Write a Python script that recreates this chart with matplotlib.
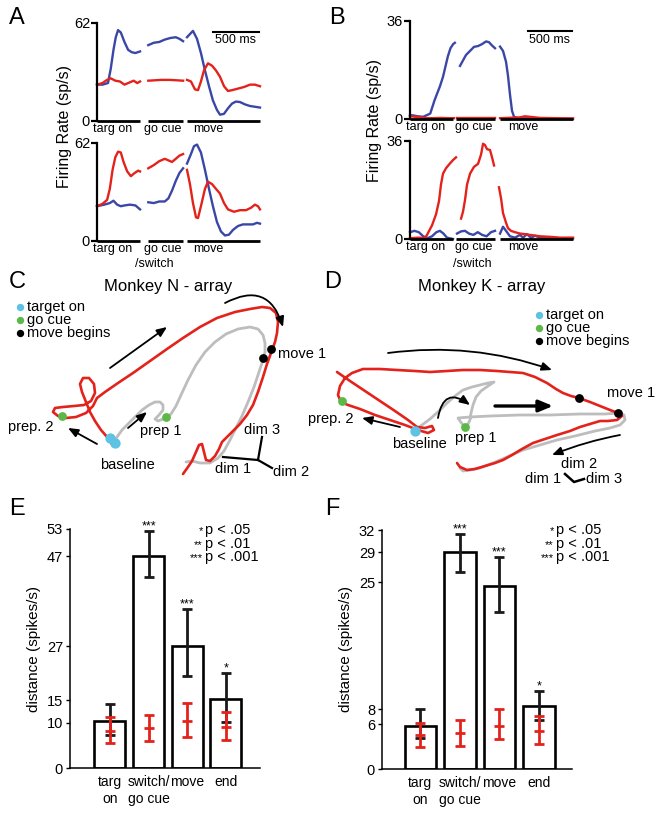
import numpy as np
import matplotlib
matplotlib.use("Agg")
import matplotlib.pyplot as plt

plt.rcParams['font.family'] = ['Liberation Sans', 'DejaVu Sans']

W, H = 664, 813
BLUE = '#3a47a6'
RED = '#e4221c'
GRAY = '#bdbdbd'
CYAN = '#5cc3e4'
GREEN = '#5bb947'

# ---- panel A: firing rates (time in ms, rate in sp/s) ----
a_segs = [(0, 470), (560, 940), (985, 1780)]
a_top_blue = [
    ([0, 60, 120, 150, 180, 205, 230, 260, 300, 340, 380, 420, 470],
     [23, 23, 24, 33, 45, 53, 57.5, 56, 50, 45, 43.5, 43, 44]),
    ([560, 620, 680, 740, 800, 860, 900, 940], [48, 49.5, 50, 51.5, 52.5, 53, 52, 50.5]),
    ([983, 1015, 1048, 1092, 1135, 1179, 1223, 1266, 1310, 1343, 1386, 1430, 1474, 1517, 1561, 1616, 1670, 1725, 1780],
     [53, 55, 57, 52, 43, 32, 22, 13, 7, 4, 4.5, 8, 11, 12.3, 12, 10.5, 9.5, 9, 8.5]),
]
a_top_red = [
    ([0, 60, 110, 150, 200, 250, 300, 340, 400, 440, 470], [23, 24, 26, 27, 25.5, 25, 23, 24, 25.5, 24, 25]),
    ([560, 700, 800, 940], [25.5, 26, 26, 25.5]),
    ([983, 1026, 1070, 1103, 1135, 1168, 1212, 1256, 1299, 1343, 1387, 1430, 1474, 1540, 1605, 1671, 1725, 1780],
     [26, 25, 20, 19.5, 25, 32, 36.5, 35, 32, 28, 22, 19, 19.5, 20.5, 21.5, 23, 23, 22]),
]
a_bot_blue = [
    ([0, 80, 140, 180, 220, 260, 300, 360, 420, 470], [22, 23, 24, 25.5, 23, 22, 22.5, 23, 22.5, 20]),
    ([560, 620, 680, 740, 780, 820, 860, 900, 940], [24.5, 24, 25, 25, 27, 32, 38, 43, 46]),
    ([983, 1026, 1059, 1092, 1135, 1179, 1223, 1266, 1310, 1354, 1397, 1441, 1485, 1540, 1594, 1649, 1703, 1747, 1780],
     [49, 55, 60, 61, 56, 45, 33, 22, 12, 6, 3.5, 4, 7, 9.5, 10.5, 10.5, 10.5, 11.5, 11]),
]
a_bot_red = [
    ([0, 60, 110, 140, 170, 200, 230, 260, 290, 330, 370, 410, 450, 470],
     [22, 23.5, 26, 33, 45, 53, 56.5, 56, 50, 44, 41, 43, 44.5, 44]),
    ([560, 620, 680, 740, 780, 820, 860, 900, 940], [46, 48, 50.5, 52, 51, 50, 52, 54, 55]),
    ([983, 1015, 1048, 1081, 1103, 1135, 1179, 1212, 1256, 1299, 1343, 1387, 1430, 1496, 1562, 1627, 1681, 1725, 1758, 1780],
     [45, 36, 24, 15, 14.5, 22, 33, 37.5, 36, 33, 30, 24, 20, 18.5, 19.5, 19.5, 21, 23, 22, 20]),
]
a_labels = ['targ on', 'go cue', 'move']
a_label_t = [175, 715, 1212]

# ---- panel B ----
b_segs = [(0, 489), (523, 966), (1023, 1852)]
b_top_blue = [
    ([0, 90, 150, 230, 280, 340, 375, 430, 460, 490, 510], [1.5, 1, 0.8, 2, 7, 12, 15.5, 23, 26, 27.5, 28]),
    ([568, 602, 636, 682, 727, 773, 818, 864, 898, 932, 966], [19.5, 21.5, 23.5, 25, 26.5, 26.8, 27.5, 28.5, 28.2, 27, 26]),
    ([1023, 1057, 1091, 1113, 1136, 1159, 1182, 1227, 1364, 1852], [26.6, 25, 21, 16, 9, 3, 0.8, 0.3, 0.2, 0.1]),
]
b_top_red = [
    ([0, 100, 150, 250, 350, 450, 500], [1, 0.7, 0.4, 0.3, 0.4, 0.3, 0.3]),
    ([534, 966], [0.2, 0.2]),
    ([1023, 1250, 1306, 1364, 1477, 1852], [0.3, 0.6, 1, 0.8, 0.4, 0.2]),
]
b_bot_blue = [
    ([0, 50, 100, 150, 200, 250, 300, 340, 380, 420, 489], [2.5, 3, 2.5, 1, 0.3, 1, 2.5, 3, 2, 0.5, 0]),
    ([534, 580, 625, 670, 720, 770, 820, 870, 920, 966], [2, 2.8, 3, 2, 1.5, 2.5, 1.5, 1, 2.5, 3]),
    ([1023, 1057, 1091, 1136, 1193, 1250, 1284, 1329, 1375, 1420, 1477, 1590, 1852],
     [2, 4.5, 3, 1, 0.5, 1.5, 0.5, 1.8, 0.4, 1.2, 0.5, 0.3, 0.2]),
]
b_bot_red = [
    ([0, 100, 170, 193, 250, 295, 330, 352, 375, 409, 455, 489, 523],
     [0.3, 0.5, 0.3, 1.5, 5, 9, 14, 20, 24, 26, 27.8, 29, 30]),
    ([580, 602, 625, 648, 682, 727, 773, 807, 830, 852, 875, 909, 932, 955],
     [7.5, 10, 14.3, 20, 24, 26.5, 27.6, 31, 35, 34.5, 33, 32.7, 30, 27]),
    ([1011, 1034, 1057, 1091, 1113, 1147, 1193, 1250, 1306, 1364, 1477, 1590, 1704, 1852],
     [19, 15, 9.5, 6, 4, 3, 2.5, 2, 1.8, 1.5, 1, 0.8, 0.5, 0.5]),
]
b_label_t = [182, 727, 1284]

# ---- panels C, D: neural state trajectories (projection units) ----
c_red_x = [113, 108, 101, 95, 90, 86, 82, 80, 83, 89, 94, 95, 91, 84, 74, 63, 55, 53, 58, 66, 76, 86, 93, 97,
           105, 118, 133, 150, 167, 183, 200, 217, 235, 250, 262, 270, 276, 278, 277, 275, 271, 267, 263, 258,
           253, 247, 240, 233, 226, 222, 219, 215, 210, 206, 204, 202, 199, 196, 192, 188, 183]
c_red_y = [446, 438, 430, 421, 412, 402, 392, 384, 378, 378, 384, 393, 401, 405, 406, 407, 408, 412, 416, 418,
           417, 413, 406, 398, 392, 383, 373, 361, 349, 338, 327, 318, 312, 309, 307, 308, 313, 322, 333, 342,
           353, 364, 377, 392, 405, 415, 424, 431, 438, 442, 449, 456, 461, 460, 452, 444, 445, 452, 461, 467, 474]
c_gray_x = [113, 117, 122, 128, 135, 142, 149, 155, 160, 163, 163, 159, 155, 158, 163, 166, 171, 176, 181, 188,
            196, 205, 215, 226, 238, 250, 258, 263, 265, 265, 263, 259, 254, 248, 242, 236, 230, 224, 218, 210,
            200, 192, 186]
c_gray_y = [443, 437, 430, 424, 417, 410, 405, 402, 402, 405, 410, 415, 419, 421, 419, 417, 414, 406, 395, 380,
            365, 352, 342, 334, 329, 327, 329, 335, 343, 352, 360, 372, 387, 402, 416, 428, 440, 451, 458, 463,
            463, 461, 462]
c_targ = ([110, 115], [438, 443])
c_go = ([62, 166], [416, 417])
c_move = ([263, 271], [358, 349])

d_red_x = [337, 350, 365, 380, 395, 408, 417, 425, 432, 434, 428, 418, 405, 390, 375, 360, 348, 341, 338, 340,
           345, 352, 363, 380, 397, 415, 430, 447, 463, 480, 497, 510, 523, 535, 547, 556, 563, 571, 579, 590,
           600, 610, 618, 622, 617, 608, 600, 590, 580, 570, 557, 545, 533, 522, 512, 503, 495, 485, 475, 467,
           460, 457]
d_red_y = [372, 381, 391, 401, 411, 420, 427, 428, 426, 430, 433, 430, 425, 420, 415, 409, 405, 402, 395, 386,
           378, 373, 369, 369, 370, 371, 372, 371, 370, 370, 371, 372, 373, 377, 383, 389, 393, 396, 398, 402,
           406, 410, 413, 416, 420, 421, 421, 424, 427, 431, 435, 439, 443, 449, 455, 460, 463, 466, 469, 470,
           467, 463]
d_gray_x = [415, 422, 430, 439, 447, 455, 463, 472, 480, 488, 494, 488, 481, 476, 473, 471, 470, 467, 463, 460,
            458, 470, 490, 520, 550, 580, 605, 618, 624, 625, 620, 610, 595, 575, 557, 540, 523, 507, 493, 480,
            470, 463, 460]
d_gray_y = [430, 425, 419, 411, 403, 396, 390, 387, 385, 383, 382, 386, 391, 397, 405, 413, 420, 426, 425, 421,
            418, 417, 416, 415, 415, 414, 414, 413, 415, 420, 425, 428, 431, 436, 440, 445, 450, 457, 463, 468,
            470, 471, 468]
d_targ = ([415], [431])
d_go = ([342, 465], [401, 427])
d_move = ([579, 618], [398, 413])

# ---- panels E, F: distances (spikes/s) ----
bar_labels = ['targ\non', 'switch/\ngo cue', 'move', 'end']
e_dist = [10.5, 47.0, 27.0, 15.2]
e_lo = [7.3, 42.3, 20.3, 10.3]
e_hi = [14.2, 52.6, 35.3, 21.1]
e_ctrl = [8.2, 8.9, 10.5, 9.1]
e_ctrl_lo = [5.5, 6.0, 6.9, 6.2]
e_ctrl_hi = [11.3, 11.8, 14.5, 12.5]
e_stars = ['', '***', '***', '*']
e_yticks = [0, 10, 15, 27, 47, 53]

f_dist = [5.8, 29.1, 24.5, 8.4]
f_lo = [4.2, 26.4, 21.0, 6.6]
f_hi = [8.1, 31.5, 28.4, 10.5]
f_ctrl = [4.6, 4.8, 5.7, 5.1]
f_ctrl_lo = [3.0, 3.1, 4.0, 3.3]
f_ctrl_hi = [6.1, 6.6, 8.0, 7.1]
f_stars = ['', '***', '***', '*']
f_yticks = [0, 6, 8, 25, 29, 32]

p_stars = ['*', '**', '***']
p_texts = ['p < .05', 'p < .01', 'p < .001']

fig = plt.figure(figsize=(W / 100, H / 100), dpi=100)


def px_axes(x0, y0, x1, y1):
    return fig.add_axes([x0 / W, 1 - y1 / H, (x1 - x0) / W, (y1 - y0) / H])


def ftext(x, y, s, **kw):
    fig.text(x / W, 1 - y / H, s, **kw)


def rate_panel(rect, xmax, ymax, segs, blue, red, label_t, labels=a_labels):
    ax = px_axes(*rect)
    for t, v in blue:
        ax.plot(t, v, color=BLUE, lw=1.7, clip_on=False)
    for t, v in red:
        ax.plot(t, v, color=RED, lw=1.7, clip_on=False)
    ax.set_xlim(0, xmax)
    ax.set_ylim(0, ymax)
    for s in ['top', 'right', 'bottom']:
        ax.spines[s].set_visible(False)
    ax.spines['left'].set_linewidth(1.6)
    ax.set_xticks([])
    ax.set_yticks([0, ymax])
    ax.tick_params(axis='y', length=4, width=1.6, labelsize=10.5, pad=1)
    for a, b in segs:
        ax.plot([a, b], [0, 0], color='k', lw=2, clip_on=False, solid_capstyle='butt')
    for lab, t in zip(labels, label_t):
        ax.annotate(lab, (t, 0), xycoords=('data', 'axes fraction'), xytext=(0, -1.5),
                    textcoords='offset points', ha='center', va='top', fontsize=9)
    return ax


# panel A
ax = rate_panel((97, 23, 260, 121), 1780, 62, a_segs, a_top_blue, a_top_red, a_label_t)
ax.plot([1266, 1766], [56.5, 56.5], color='k', lw=1.5, clip_on=False)
ax.text(1516, 55, '500 ms', ha='center', va='top', fontsize=9)
rate_panel((97, 143, 260, 241), 1780, 62, a_segs, a_bot_blue, a_bot_red, a_label_t)
ftext(154, 264, '/switch', ha='center', va='center', fontsize=9)
ftext(65, 126, 'Firing Rate (sp/s)', rotation=90, ha='center', va='center', fontsize=11.5)

# panel B
ax = rate_panel((410, 21, 573, 119), 1852, 36, b_segs, b_top_blue, b_top_red, b_label_t)
ax.plot([1340, 1840], [32.3, 32.3], color='k', lw=1.5, clip_on=False)
ax.text(1590, 31.3, '500 ms', ha='center', va='top', fontsize=9)
rate_panel((410, 141, 573, 239), 1852, 36, b_segs, b_bot_blue, b_bot_red, b_label_t)
ftext(472, 264, '/switch', ha='center', va='center', fontsize=9)
ftext(374, 121, 'Firing Rate (sp/s)', rotation=90, ha='center', va='center', fontsize=11.5)


def arrow(ax, start, end, rad=0.0, lw=1.3, ms=10):
    ax.annotate('', xy=end, xytext=start,
                arrowprops=dict(arrowstyle='-|>,head_length=0.6,head_width=0.25', color='k', lw=lw,
                                connectionstyle=f'arc3,rad={rad}', mutation_scale=ms,
                                shrinkA=0, shrinkB=0))


def traj_panel(rect, gx, gy, rx, ry, targ, go, move):
    ax = px_axes(*rect)
    ax.set_xlim(rect[0], rect[2])
    ax.set_ylim(rect[3], rect[1])
    ax.axis('off')
    ax.plot(gx, gy, color=GRAY, lw=2.0, solid_capstyle='round', zorder=2)
    ax.plot(rx, ry, color=RED, lw=1.9, solid_capstyle='round', zorder=3)
    ax.scatter(*targ, s=55, color=CYAN, zorder=5, linewidths=0)
    ax.scatter(*go, s=40, color=GREEN, zorder=5, linewidths=0)
    ax.scatter(*move, s=40, color='k', zorder=5, linewidths=0)
    return ax


def legend_dots(ax, x, ys):
    for y, c, lab in zip(ys, [CYAN, GREEN, 'k'], ['target on', 'go cue', 'move begins']):
        ax.scatter([x], [y], s=28, color=c, linewidths=0)
        ax.text(x + 7, y, lab, ha='left', va='center', fontsize=10.5)


# panel C
ax = traj_panel((0, 270, 332, 490), c_gray_x, c_gray_y, c_red_x, c_red_y, c_targ, c_go, c_move)
legend_dots(ax, 20, [307, 320, 333])
arrow(ax, (110, 368), (167, 327))
arrow(ax, (225, 303), (283, 327), rad=-0.6)
arrow(ax, (128, 428), (147, 412))
arrow(ax, (97, 444), (68, 428))
ax.text(8, 427, 'prep. 2', ha='left', va='center', fontsize=10.5)
ax.text(127, 465, 'baseline', ha='center', va='center', fontsize=10.5)
ax.text(161, 431, 'prep 1', ha='center', va='center', fontsize=10.5)
ax.text(278, 354, 'move 1', ha='left', va='center', fontsize=10.5)
ax.text(262, 430, 'dim 3', ha='center', va='center', fontsize=10.5)
ax.text(233, 469, 'dim 1', ha='center', va='center', fontsize=10.5)
ax.text(291, 472, 'dim 2', ha='center', va='center', fontsize=10.5)
ax.plot([262, 258], [437, 460], color='k', lw=1.6)
ax.plot([223, 258], [457, 460], color='k', lw=1.6)
ax.plot([258, 272], [460, 468], color='k', lw=1.6)
ftext(168, 286, 'Monkey N - array', ha='center', va='center', fontsize=12)

# panel D
ax = traj_panel((332, 270, 664, 490), d_gray_x, d_gray_y, d_red_x, d_red_y, d_targ, d_go, d_move)
legend_dots(ax, 539, [315, 328, 341])
arrow(ax, (388, 353), (552, 370), rad=-0.12)
arrow(ax, (495, 406), (553, 406), lw=2.4, ms=14)
arrow(ax, (438, 418), (470, 405), rad=-0.8)
arrow(ax, (400, 427), (362, 418))
arrow(ax, (620, 435), (552, 455), rad=0.05)
ax.text(331, 419, 'prep. 2', ha='center', va='center', fontsize=10.5)
ax.text(419, 444, 'baseline', ha='center', va='center', fontsize=10.5)
ax.text(476, 438, 'prep 1', ha='center', va='center', fontsize=10.5)
ax.text(631, 393, 'move 1', ha='center', va='center', fontsize=10.5)
ax.text(579, 464, 'dim 2', ha='center', va='center', fontsize=10.5)
ax.text(561, 479, 'dim 1', ha='right', va='center', fontsize=10.5)
ax.text(586, 479, 'dim 3', ha='left', va='center', fontsize=10.5)
ax.plot([565, 574, 584], [474, 482, 479], color='k', lw=1.8)
ftext(482, 286, 'Monkey K - array', ha='center', va='center', fontsize=12)


def bar_panel(rect, xlim, ymax, yticks, dist, lo, hi, ctrl, clo, chi, stars, px_leg, py_leg):
    ax = px_axes(*rect)
    x = np.arange(len(dist))
    d = np.array(dist)
    ax.bar(x, d, width=0.8, facecolor='white', edgecolor='k', linewidth=1.9, zorder=2)
    ax.errorbar(x, d, yerr=[d - np.array(lo), np.array(hi) - d], fmt='none', ecolor='#1a1a1a',
                elinewidth=2, capsize=3.5, capthick=2, zorder=3)
    c = np.array(ctrl)
    ax.errorbar(x, c, yerr=[c - np.array(clo), np.array(chi) - c], fmt='_', color=RED, ms=7, mew=2,
                ecolor=RED, elinewidth=2, capsize=3.5, capthick=2, zorder=4)
    for xi, h, s in zip(x, hi, stars):
        ax.annotate(s, (xi, h), xytext=(0, 1), textcoords='offset points', ha='center',
                    va='baseline', fontsize=9)
    ax.set_xlim(*xlim)
    ax.set_ylim(0, ymax)
    ax.set_yticks(yticks)
    ax.set_xticks(x)
    ax.set_xticklabels(bar_labels, fontsize=10, linespacing=1.25)
    ax.tick_params(axis='x', length=0, pad=5)
    ax.tick_params(axis='y', length=3, width=1, labelsize=10.5, pad=2)
    for s in ['top', 'right']:
        ax.spines[s].set_visible(False)
    ax.spines['left'].set_linewidth(1.1)
    ax.spines['bottom'].set_linewidth(1.1)
    ax.set_ylabel('distance (spikes/s)', fontsize=11, labelpad=4)
    for i, (st, pt) in enumerate(zip(p_stars, p_texts)):
        y = py_leg + i * 13.5
        ftext(px_leg - 2, y + 1.5, st, ha='right', va='center', fontsize=8)
        ftext(px_leg, y, pt, ha='left', va='center', fontsize=10.5)
    return ax


bar_panel((70, 529, 260, 768), (-1.03, 3.88), 53, e_yticks, e_dist, e_lo, e_hi,
          e_ctrl, e_ctrl_lo, e_ctrl_hi, e_stars, 205, 530)
bar_panel((382, 530, 572, 769), (-0.97, 3.84), 32, f_yticks, f_dist, f_lo, f_hi,
          f_ctrl, f_ctrl_lo, f_ctrl_hi, f_stars, 556, 530)

for lab, (x, y) in zip('ABCDEF', [(17, 18), (337, 18), (17, 282), (333, 282), (17, 509), (332, 509)]):
    ftext(x, y, lab, ha='center', va='center', fontsize=17)

fig.savefig('out.png', dpi=100)
